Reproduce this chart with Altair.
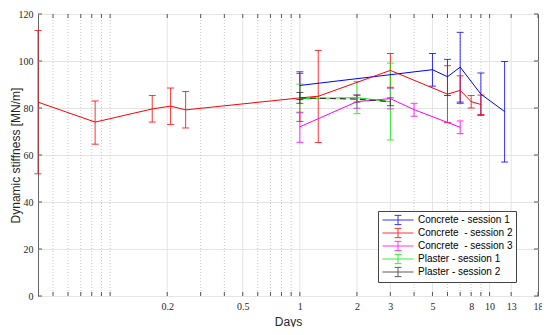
import altair as alt
import pandas as pd

# ---------------- data ----------------
series_names = ["Concrete - session 1", "Concrete \u00a0- session 2", "Concrete \u00a0- session 3",
                "Plaster - session 1", "Plaster - session 2"]
series_colors = ["#0000ff", "#ff0000", "#ff00ff", "#00ee00", "#333333"]

c1_days = [1, 5, 6, 7, 9, 12]
c1_mean = [89.6, 96.3, 93.3, 97.4, 85.9, 78.5]
c1_lo = [83.6, 89.3, 85.3, 82.5, 76.9, 57.0]
c1_hi = [95.4, 103.2, 100.7, 112.2, 94.9, 99.8]

c2_days = [1 / 24, 1 / 12, 1 / 6, 5 / 24, 0.25, 1, 1.25, 3, 6, 7, 8, 9]
c2_mean = [82.5, 74.0, 79.6, 80.8, 79.2, 84.3, 85.0, 96.0, 85.9, 87.5, 82.7, 81.5]
c2_lo = [52.0, 64.6, 74.0, 73.0, 71.5, 74.3, 65.3, 88.8, 73.8, 81.9, 80.0, 77.2]
c2_hi = [113.0, 83.0, 85.3, 88.5, 87.0, 94.7, 104.5, 103.2, 98.0, 93.7, 85.3, 85.5]

c3_days = [1, 2, 3, 4, 7]
c3_mean = [72.0, 82.7, 84.0, 79.3, 71.8]
c3_lo = [65.4, 79.9, 79.6, 76.5, 69.1]
c3_hi = [78.2, 85.5, 88.4, 82.0, 74.5]

p1_days = [1, 2, 3]
p1_mean = [84.0, 84.4, 82.7]
p1_lo = [77.9, 77.6, 66.4]
p1_hi = [90.2, 91.3, 99.1]

p2_days = [1, 2, 3]
p2_mean = [84.3, 83.8, 82.7]
p2_lo = [82.0, 82.5, 81.0]
p2_hi = [86.6, 85.5, 84.3]

x_label_ticks = [0.2, 0.5, 1, 2, 3, 5, 8, 10, 13, 18]
x_major_grid = [0.2, 0.5, 1, 2, 3, 5, 10, 13]
x_minor_grid = [0.05, 0.06, 0.07, 0.08, 0.09, 0.1, 0.3, 0.4, 0.6, 0.7, 0.8, 0.9, 4, 6, 7, 8, 9]
x_all_ticks = sorted(set(x_label_ticks + x_minor_grid))
y_ticks = [0, 20, 40, 60, 80, 100, 120]

# ---------------- table ----------------
rows = []
for name, d, m, lo, hi in [
    (series_names[0], c1_days, c1_mean, c1_lo, c1_hi),
    (series_names[1], c2_days, c2_mean, c2_lo, c2_hi),
    (series_names[2], c3_days, c3_mean, c3_lo, c3_hi),
    (series_names[3], p1_days, p1_mean, p1_lo, p1_hi),
    (series_names[4], p2_days, p2_mean, p2_lo, p2_hi),
]:
    for i in range(len(d)):
        rows.append({"series": name, "days": d[i], "mean": m[i], "lo": lo[i], "hi": hi[i], "idx": i})
df = pd.DataFrame(rows)
df_solid = df[df["series"] != series_names[4]]
df_dash = df[df["series"] == series_names[4]]

W, H = 500, 282
xscale = alt.Scale(type="log", domain=[1 / 24, 18], nice=False)
yscale = alt.Scale(domain=[0, 120], nice=False)

SERIF = "Liberation Serif"
SANS = "Liberation Sans"

color_scale = alt.Scale(domain=series_names, range=series_colors)
legend_path = "M-2.96,0L2.96,0M0,-0.88L0,0.88M-0.65,-0.88L0.65,-0.88M-0.65,0.88L0.65,0.88"

x_axis = alt.Axis(values=x_label_ticks, format="~g", grid=False, ticks=False, domain=False,
                  labelFont=SERIF, labelFontSize=10, labelColor="#262626", labelPadding=5,
                  labelFlush=False, labelOverlap=False,
                  title="Days", titleFont=SANS, titleFontSize=12, titleFontWeight="normal",
                  titleColor="#262626", titleY=29, titleBaseline="alphabetic")
y_axis = alt.Axis(values=y_ticks, grid=True, gridColor="#e4e4e4", gridWidth=1, ticks=False,
                  domain=False, labelFont=SERIF, labelFontSize=10, labelColor="#262626",
                  labelPadding=5,
                  title="Dynamic stiffness [MN/m]", titleFont=SANS, titleFontSize=12,
                  titleFontWeight="normal", titleColor="#262626", titleX=-23, titleY=H / 2,
                  titleBaseline="middle", titleAngle=270)
legend = alt.Legend(title=None, orient="none", legendX=340, legendY=197,
                    symbolType=legend_path, symbolSize=110, symbolStrokeWidth=1,
                    symbolOffset=11, labelFont=SANS, labelFontSize=10, labelColor="#000000",
                    labelOffset=14, rowPadding=-1.7, padding=3,
                    fillColor="white", strokeColor="#444444", labelLimit=300)


def X(field):
    return alt.X(field, type="quantitative", scale=xscale, axis=x_axis)


def Y(field):
    return alt.Y(field, type="quantitative", scale=yscale, axis=y_axis)


def C():
    return alt.Color("series:N", scale=color_scale, sort=series_names, legend=legend)


grid_major = alt.Chart(pd.DataFrame({"t": x_major_grid})).mark_rule(
    color="#e4e4e4", strokeWidth=1).encode(x=X("t"))
grid_minor = alt.Chart(pd.DataFrame({"t": x_minor_grid})).mark_rule(
    color="#c8c8c8", strokeWidth=1, strokeDash=[1, 2]).encode(x=X("t"))

base = alt.Chart(df)
errbars = base.mark_rule(strokeWidth=1, opacity=0.8).encode(
    x=X("days"), y=Y("lo"), y2="hi:Q", color=C())
caps_lo = base.mark_tick(orient="horizontal", size=7, thickness=1, opacity=0.8).encode(
    x=X("days"), y=Y("lo"), color=C())
caps_hi = base.mark_tick(orient="horizontal", size=7, thickness=1, opacity=0.8).encode(
    x=X("days"), y=Y("hi"), color=C())
lines_solid = alt.Chart(df_solid).mark_line(strokeWidth=1).encode(
    x=X("days"), y=Y("mean"), color=C(), order="idx:Q")
lines_dash = alt.Chart(df_dash).mark_line(strokeWidth=1.2, strokeDash=[6, 4]).encode(
    x=X("days"), y=Y("mean"), color=C(), order="idx:Q")

tick_df = pd.DataFrame({"t": x_all_ticks})
ticks_top = alt.Chart(tick_df).mark_rule(color="#555555", strokeWidth=1).encode(
    x=X("t"), y=alt.value(0), y2=alt.value(4))
ticks_bot = alt.Chart(tick_df).mark_rule(color="#555555", strokeWidth=1).encode(
    x=X("t"), y=alt.value(H), y2=alt.value(H - 4))
ytick_df = pd.DataFrame({"v": y_ticks})
ticks_left = alt.Chart(ytick_df).mark_rule(color="#555555", strokeWidth=1).encode(
    y=Y("v"), x=alt.value(0), x2=alt.value(4))
ticks_right = alt.Chart(ytick_df).mark_rule(color="#555555", strokeWidth=1).encode(
    y=Y("v"), x=alt.value(W), x2=alt.value(W - 4))

chart = alt.layer(
    grid_major, grid_minor, errbars, caps_lo, caps_hi, lines_solid, lines_dash,
    ticks_top, ticks_bot, ticks_left, ticks_right,
).properties(
    width=W, height=H,
    autosize=alt.AutoSizeParams(type="none"),
    padding={"left": 30, "top": 6, "right": 4, "bottom": 31},
).configure_view(stroke="#666666", strokeWidth=1)

chart.save("out.html", embed_options={"renderer": "svg", "actions": False})
